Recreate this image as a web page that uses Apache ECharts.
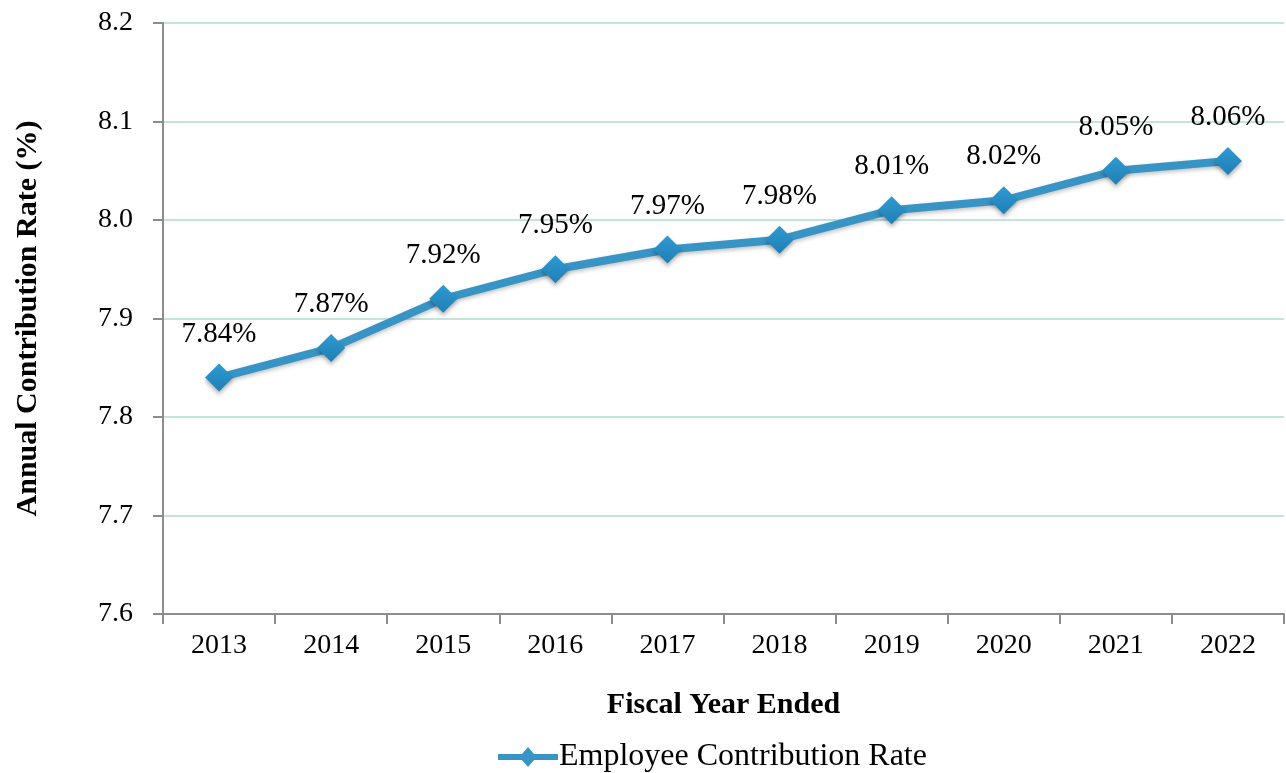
<!DOCTYPE html>
<html>
<head>
<meta charset="utf-8">
<script src="https://cdn.jsdelivr.net/npm/echarts@6/dist/echarts.min.js"></script>
<style>
  html, body { margin: 0; padding: 0; background: #fff; }
  #main { width: 1286px; height: 773px; }
</style>
</head>
<body>
<div id="main"></div>
<script>
var years = ['2013', '2014', '2015', '2016', '2017', '2018', '2019', '2020', '2021', '2022'];
var rates = [7.84, 7.87, 7.92, 7.95, 7.97, 7.98, 8.01, 8.02, 8.05, 8.06];
var yTicks = { min: 7.6, max: 8.2, step: 0.1 };

var FONT = '"Liberation Serif", "Times New Roman", serif';
var BLUE = '#3794c4';
// line-with-diamond legend marker
var LEGEND_ICON = 'path://M0,7 L24,7 L30,0 L36,7 L60,7 L60,13 L36,13 L30,20 L24,13 L0,13 Z';

var chart = echarts.init(document.getElementById('main'));
chart.setOption({
  animation: false,
  textStyle: { fontFamily: FONT },
  grid: { left: 163, right: 2, top: 23, bottom: 159 },
  legend: {
    bottom: -5,
    left: 493,
    itemWidth: 60,
    itemHeight: 20,
    itemGap: 0,
    textStyle: { fontFamily: FONT, fontSize: 32, color: '#000', padding: [0, 0, 0, -4] },
    data: [{ name: 'Employee Contribution Rate', icon: LEGEND_ICON, itemStyle: { color: BLUE } }]
  },
  xAxis: {
    type: 'category',
    data: years,
    boundaryGap: true,
    name: 'Fiscal Year Ended',
    nameLocation: 'middle',
    nameGap: 76,
    nameTextStyle: { fontFamily: FONT, fontSize: 30, fontWeight: 'bold', color: '#000' },
    axisLine: { lineStyle: { color: '#8c8c8c', width: 2 } },
    axisTick: { show: true, length: 10, lineStyle: { color: '#8c8c8c', width: 2 } },
    axisLabel: { fontFamily: FONT, fontSize: 28, color: '#000', margin: 18 }
  },
  yAxis: {
    type: 'value',
    min: yTicks.min,
    max: yTicks.max,
    interval: yTicks.step,
    name: 'Annual Contribution Rate (%)',
    nameLocation: 'middle',
    nameGap: 120,
    nameTextStyle: { fontFamily: FONT, fontSize: 30, fontWeight: 'bold', color: '#000' },
    axisLine: { show: true, lineStyle: { color: '#8c8c8c', width: 2 } },
    axisTick: { show: true, length: 10, lineStyle: { color: '#8c8c8c', width: 2 } },
    axisLabel: {
      fontFamily: FONT, fontSize: 28, color: '#000', margin: 30,
      formatter: function (v) { return v.toFixed(1); }
    },
    splitLine: { lineStyle: { color: '#c3e4dd', width: 2 } }
  },
  series: [{
    name: 'Employee Contribution Rate',
    type: 'line',
    data: rates,
    symbol: 'diamond',
    symbolSize: 28,
    lineStyle: {
      color: BLUE, width: 8,
      shadowColor: 'rgba(0,0,0,0.25)', shadowBlur: 4, shadowOffsetY: 2
    },
    itemStyle: {
      color: new echarts.graphic.LinearGradient(0, 0, 0, 1, [
        { offset: 0, color: '#2f9ad2' },
        { offset: 1, color: '#1f7fb4' }
      ]),
      shadowColor: 'rgba(0,0,0,0.3)', shadowBlur: 4, shadowOffsetY: 3
    },
    label: {
      show: true,
      position: 'top',
      distance: 15,
      fontFamily: FONT,
      fontSize: 29,
      color: '#000',
      formatter: function (p) { return p.value.toFixed(2) + '%'; }
    }
  }]
});
</script>
</body>
</html>
